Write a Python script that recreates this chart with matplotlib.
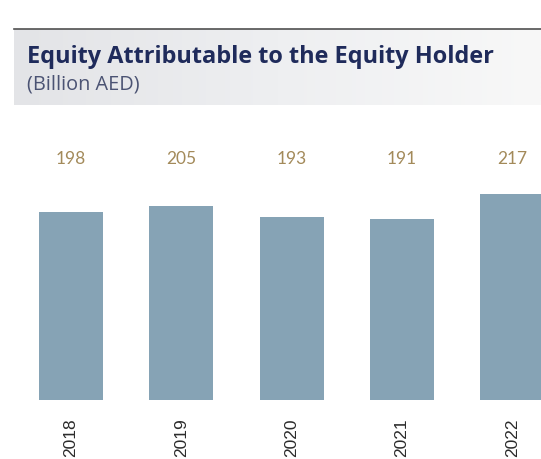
import matplotlib
matplotlib.use("Agg")
import matplotlib.pyplot as plt
import numpy as np
from matplotlib.colors import LinearSegmentedColormap

years = ["2018", "2019", "2020", "2021", "2022"]
values = [198, 205, 193, 191, 217]
value_labels = ["198", "205", "193", "191", "217"]

W, H = 541, 459
fig = plt.figure(figsize=(W / 100, H / 100), dpi=100)
fig.patch.set_facecolor("white")

# header band with gradient
hx0, hy0, hx1, hy1 = 14, 29, 541, 105
hax = fig.add_axes([hx0 / W, 1 - hy1 / H, (hx1 - hx0) / W, (hy1 - hy0) / H])
grad = np.linspace(0, 1, 256)[None, :]
cmap = LinearSegmentedColormap.from_list("g", ["#e3e4e7", "#eeeff1", "#f8f8f8"])
hax.imshow(grad, aspect="auto", cmap=cmap, extent=[0, 1, 0, 1])
hax.set_axis_off()
hax.plot([0, 1], [1, 1], color="#505050", lw=1.2, transform=hax.transAxes, clip_on=False)

fig.text(27 / W, 1 - 57 / H, "Equity Attributable to the Equity Holder",
         fontsize=16.9, fontweight="bold", color="#1f2b5b", family="Open Sans",
         va="center", ha="left")
fig.text(27 / W, 1 - 85 / H, "(Billion AED)", fontsize=14.3, color="#4b5373",
         family="Open Sans", va="center", ha="left")

# bars
ax_top, ax_bot = 130, 400
ax = fig.add_axes([0, 1 - ax_bot / H, 1, (ax_bot - ax_top) / H])
pxu = 110.3
x = np.arange(len(years))
ax.bar(x, values, width=64 / pxu, color="#86a3b5")
ax.set_xlim(-71 / pxu, (W - 71) / pxu)
ax.set_ylim(0, (ax_bot - ax_top) / 0.948)
for s in ax.spines.values():
    s.set_visible(False)
ax.set_yticks([])
ax.set_xticks(x)
ax.set_xticklabels(years, rotation=90, fontsize=12.5, color="#2b2b2b",
                   family="Liberation Sans", va="top")
ax.tick_params(axis="x", length=0, pad=13)
for xi, lab in zip(x, value_labels):
    ax.text(xi, (ax_bot - 159) / 0.948, lab, ha="center", va="center",
            fontsize=12.5, color="#a38a5a", family="Lato")

fig.savefig("out.png", dpi=100, facecolor="white")
